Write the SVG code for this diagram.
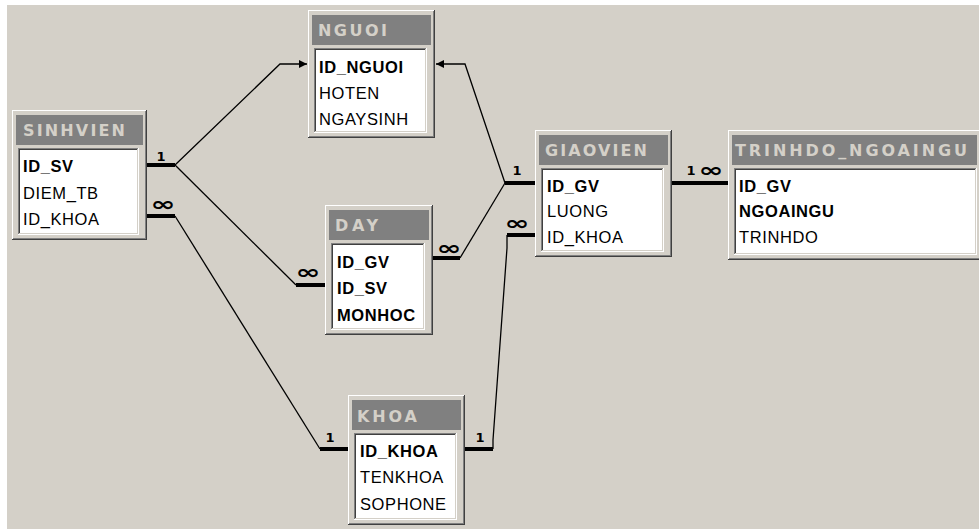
<svg xmlns="http://www.w3.org/2000/svg" width="979" height="529" viewBox="0 0 979 529">
<defs>
<style>
.bg{fill:#d4d0c8}
.d4{fill:#404040}
.d8{fill:#808080}
.wh{fill:#ffffff}
.fc{fill:#d4d0c8}
.tt{font-family:"DejaVu Sans",sans-serif;font-weight:bold;font-size:16px;fill:#d4d0c8}
.f{font-family:"Liberation Sans",Arial,sans-serif;font-size:16.5px;fill:#000;letter-spacing:0.6px}
.fb{font-family:"Liberation Sans",Arial,sans-serif;font-size:16.5px;font-weight:bold;fill:#000;letter-spacing:0.6px}
.thin{fill:none;stroke:#000;stroke-width:1.3}
.thick{fill:none;stroke:#000;stroke-width:4}
.one{font-family:"DejaVu Sans",sans-serif;font-weight:bold;font-size:13px;fill:#000;text-anchor:middle}
.inf{font-family:"DejaVu Sans",sans-serif;font-weight:bold;font-size:20px;fill:#000;text-anchor:middle}
</style>
<marker id="arr" markerWidth="10" markerHeight="10" refX="9" refY="5" orient="auto" markerUnits="userSpaceOnUse">
<path d="M1,1 L9,5 L1,9 Z" fill="#000"/>
</marker>
</defs>
<rect x="0" y="0" width="979" height="529" fill="#ffffff"/>
<rect x="7" y="5" width="972" height="524" class="bg"/>

<g id="connectors">
<path class="thick" d="M147,165 H175"/>
<path class="thin" d="M175,165 L280,64 H307" marker-end="url(#arr)"/>
<path class="thin" d="M175,165 L296,285"/>
<path class="thick" d="M296,285 H325"/>
<path class="thick" d="M147,216 H175"/>
<path class="thin" d="M175,216 L320,449"/>
<path class="thick" d="M320,449 H348"/>
<path class="thin" d="M505,183 L465,64 H436" marker-end="url(#arr)"/>
<path class="thick" d="M505,183 H535"/>
<path class="thin" d="M505,183 L460,258"/>
<path class="thick" d="M460,258 H433"/>
<path class="thick" d="M535,235 H507"/>
<path class="thin" d="M507,235 V248 L493,440 V449"/>
<path class="thick" d="M493,449 H465"/>
<path class="thick" d="M672,183 H728"/>
<text class="one" x="161" y="161">1</text>
<text class="inf" transform="translate(163,211) scale(1.5,1)">∞</text>
<text class="inf" transform="translate(308,279) scale(1.5,1)">∞</text>
<text class="inf" transform="translate(449,255) scale(1.5,1)">∞</text>
<text class="one" x="517" y="175">1</text>
<text class="inf" transform="translate(517,230) scale(1.5,1)">∞</text>
<text class="one" x="691" y="175">1</text>
<text class="inf" transform="translate(711,177) scale(1.5,1)">∞</text>
<text class="one" x="330" y="442">1</text>
<text class="one" x="480" y="442">1</text>
</g>

<g id="SINHVIEN">
<rect class="d4" x="12" y="110" width="135" height="130"/>
<rect class="wh" x="12" y="110" width="134" height="129"/>
<rect class="d8" x="13" y="111" width="133" height="128"/>
<rect class="fc" x="13" y="111" width="132" height="127"/>
<rect class="d8" x="16" y="115" width="127" height="30"/>
<rect class="wh" x="18" y="148" width="121" height="87"/>
<rect class="d8" x="18" y="148" width="120" height="86"/>
<rect class="fc" x="19" y="149" width="119" height="85"/>
<rect class="d4" x="19" y="149" width="118" height="84"/>
<rect class="wh" x="20" y="150" width="117" height="83"/>
<text class="tt" x="23" y="136" textLength="102" lengthAdjust="spacing">SINHVIEN</text>
<text class="fb" x="23" y="172">ID_SV</text>
<text class="f" x="23" y="199">DIEM_TB</text>
<text class="f" x="23" y="225">ID_KHOA</text>
</g>

<g id="NGUOI">
<rect class="d4" x="308" y="10" width="127" height="128"/>
<rect class="wh" x="308" y="10" width="126" height="127"/>
<rect class="d8" x="309" y="11" width="125" height="126"/>
<rect class="fc" x="309" y="11" width="124" height="125"/>
<rect class="d8" x="312" y="15" width="119" height="30"/>
<rect class="wh" x="314" y="48" width="113" height="85"/>
<rect class="d8" x="314" y="48" width="112" height="84"/>
<rect class="fc" x="315" y="49" width="111" height="83"/>
<rect class="d4" x="315" y="49" width="110" height="82"/>
<rect class="wh" x="316" y="50" width="109" height="81"/>
<text class="tt" x="318" y="36" textLength="69" lengthAdjust="spacing">NGUOI</text>
<text class="fb" x="319" y="73">ID_NGUOI</text>
<text class="f" x="319" y="99">HOTEN</text>
<text class="f" x="319" y="125">NGAYSINH</text>
</g>

<g id="DAY">
<rect class="d4" x="325" y="205" width="108" height="130"/>
<rect class="wh" x="325" y="205" width="107" height="129"/>
<rect class="d8" x="326" y="206" width="106" height="128"/>
<rect class="fc" x="326" y="206" width="105" height="127"/>
<rect class="d8" x="329" y="210" width="100" height="30"/>
<rect class="wh" x="331" y="243" width="94" height="87"/>
<rect class="d8" x="331" y="243" width="93" height="86"/>
<rect class="fc" x="332" y="244" width="92" height="85"/>
<rect class="d4" x="332" y="244" width="91" height="84"/>
<rect class="wh" x="333" y="245" width="90" height="83"/>
<text class="tt" x="335" y="231" textLength="43" lengthAdjust="spacing">DAY</text>
<text class="fb" x="337" y="268">ID_GV</text>
<text class="fb" x="337" y="294">ID_SV</text>
<text class="fb" x="337" y="321">MONHOC</text>
</g>

<g id="GIAOVIEN">
<rect class="d4" x="535" y="130" width="137" height="127"/>
<rect class="wh" x="535" y="130" width="136" height="126"/>
<rect class="d8" x="536" y="131" width="135" height="125"/>
<rect class="fc" x="536" y="131" width="134" height="124"/>
<rect class="d8" x="539" y="135" width="129" height="30"/>
<rect class="wh" x="541" y="168" width="123" height="84"/>
<rect class="d8" x="541" y="168" width="122" height="83"/>
<rect class="fc" x="542" y="169" width="121" height="82"/>
<rect class="d4" x="542" y="169" width="120" height="81"/>
<rect class="wh" x="543" y="170" width="119" height="80"/>
<text class="tt" x="545" y="156" textLength="102" lengthAdjust="spacing">GIAOVIEN</text>
<text class="fb" x="547" y="192">ID_GV</text>
<text class="f" x="547" y="217">LUONG</text>
<text class="f" x="547" y="243">ID_KHOA</text>
</g>

<g id="TRINHDO_NGOAINGU">
<rect class="d4" x="728" y="130" width="255" height="130"/>
<rect class="wh" x="728" y="130" width="254" height="129"/>
<rect class="d8" x="729" y="131" width="253" height="128"/>
<rect class="fc" x="729" y="131" width="252" height="127"/>
<rect class="d8" x="732" y="135" width="245" height="30"/>
<rect class="wh" x="734" y="168" width="243" height="87"/>
<rect class="d8" x="734" y="168" width="242" height="86"/>
<rect class="fc" x="735" y="169" width="241" height="85"/>
<rect class="d4" x="735" y="169" width="240" height="84"/>
<rect class="wh" x="736" y="170" width="239" height="83"/>
<text class="tt" x="735" y="156" textLength="232" lengthAdjust="spacing">TRINHDO_NGOAINGU</text>
<text class="fb" x="739" y="192">ID_GV</text>
<text class="fb" x="739" y="217">NGOAINGU</text>
<text class="f" x="739" y="243">TRINHDO</text>
</g>

<g id="KHOA">
<rect class="d4" x="348" y="395" width="117" height="130"/>
<rect class="wh" x="348" y="395" width="116" height="129"/>
<rect class="d8" x="349" y="396" width="115" height="128"/>
<rect class="fc" x="349" y="396" width="114" height="127"/>
<rect class="d8" x="352" y="400" width="109" height="30"/>
<rect class="wh" x="354" y="433" width="103" height="87"/>
<rect class="d8" x="354" y="433" width="102" height="86"/>
<rect class="fc" x="355" y="434" width="101" height="85"/>
<rect class="d4" x="355" y="434" width="100" height="84"/>
<rect class="wh" x="356" y="435" width="99" height="83"/>
<text class="tt" x="357" y="422" textLength="60" lengthAdjust="spacing">KHOA</text>
<text class="fb" x="360" y="457">ID_KHOA</text>
<text class="f" x="360" y="483">TENKHOA</text>
<text class="f" x="360" y="510">SOPHONE</text>
</g>
</svg>
